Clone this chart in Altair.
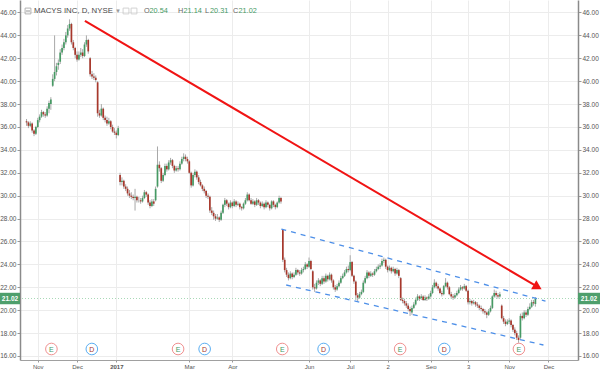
import altair as alt
import pandas as pd

# ---------------- data (daily bars, x = trading-day index, 0 = 1 Nov 2016) ----------------
FIRST_BAR = -6

opens = (
    [36.5, 36.4, 36.1, 36.3, 35.7, 35.4]
    + [36.0, 36.6, 36.9, 37.3, 37.1, 37.0, 37.6, 38.0, 39.6, 40.2]
    + [40.8, 41.4, 41.7, 42.5, 42.9, 43.4, 44.0, 44.6, 45.0, 43.4]
    + [42.9, 42.3, 41.9, 42.3, 42.5, 42.2, 43.2, 43.6, 42.0, 40.6]
    + [40.4, 40.3, 39.9, 37.2, 37.0, 37.6, 36.8, 36.6, 36.3, 36.5]
    + [36.0, 35.6, 35.5, 35.3, 31.8, 31.2, 31.3, 30.8, 30.6, 30.2]
    + [30.0, 29.9, 29.8, 29.9, 29.6, 29.6, 29.5, 29.8, 30.3, 30.1]
    + [29.4, 29.1, 29.5, 29.6, 30.8, 32.7, 32.4, 31.3, 31.8, 32.6]
    + [32.3, 32.9, 33.1, 32.6, 32.2, 32.4, 32.3, 32.8, 33.2, 33.4]
    + [33.2, 33.0, 32.0, 30.9, 31.8, 32.1, 31.6, 31.2, 30.9, 30.6]
    + [30.4, 30.0, 29.9, 28.7, 28.5, 28.2, 28.0, 28.1, 27.9, 28.5]
    + [29.2, 29.6, 29.3, 29.0, 29.4, 29.1, 29.5, 29.2, 29.3, 29.0]
    + [28.9, 29.3, 29.6, 30.1, 29.6, 29.3, 29.5, 29.2, 29.6, 29.4]
    + [29.1, 29.3, 29.0, 29.4, 29.2, 28.9, 29.5, 29.2, 29.0, 29.4]
    + [29.8, 27.0, 24.4, 23.5, 23.1, 22.8, 23.2, 22.9, 23.1, 23.5]
    + [23.3, 23.2, 23.5, 23.6, 24.0, 23.8, 24.3, 23.4, 22.0, 21.9]
    + [22.4, 22.6, 22.3, 22.8, 22.5, 23.0, 22.7, 23.1, 22.6, 22.0]
    + [21.8, 22.1, 22.4, 22.8, 23.0, 23.3, 23.6, 23.5, 24.2, 23.0]
    + [22.5, 21.3, 21.1, 21.4, 21.6, 22.4, 22.8, 23.3, 23.0, 23.2]
    + [23.1, 23.4, 23.6, 23.8, 23.9, 24.3, 24.4, 23.8, 23.5, 23.7]
    + [23.4, 23.6, 23.2, 23.5, 22.8, 20.9, 20.8, 20.6, 20.4, 20.1]
    + [19.8, 20.2, 20.5, 20.9, 21.2, 21.0, 21.2, 20.9, 21.1, 21.0]
    + [21.2, 21.5, 22.0, 22.4, 22.1, 21.9, 21.5, 21.4, 22.1, 22.4]
    + [22.0, 21.4, 21.2, 21.1, 21.3, 21.5, 21.8, 22.0, 21.9, 22.1]
    + [21.7, 20.7, 20.8, 20.6, 20.7, 20.5, 20.4, 20.2, 20.1, 19.9]
    + [19.8, 19.6, 19.9, 20.2, 21.2, 21.5, 21.3, 21.2, 20.4, 19.3]
    + [19.0, 18.8, 19.0, 19.1, 18.7, 18.3, 18.0, 17.6, 17.6, 19.5]
    + [19.3, 19.8, 19.6, 20.1, 20.3, 20.7, 20.54]
)

highs = (
    [36.7, 36.5, 36.5, 36.4, 35.8, 36.1]
    + [36.8, 37.1, 37.5, 37.4, 37.3, 37.8, 38.3, 38.6, 40.6, 44.0]
    + [41.6, 41.9, 42.8, 43.2, 43.7, 44.3, 44.9, 45.4, 45.1, 43.6]
    + [43.0, 42.6, 42.6, 42.9, 42.8, 43.4, 44.0, 43.7, 42.1, 40.9]
    + [40.7, 40.5, 40.0, 37.5, 38.0, 37.7, 37.0, 36.9, 36.8, 36.6]
    + [36.2, 35.9, 35.7, 36.1, 32.0, 31.6, 31.4, 31.0, 30.8, 30.5]
    + [30.3, 30.1, 30.6, 30.0, 29.9, 29.8, 30.0, 30.5, 30.4, 30.2]
    + [29.6, 29.7, 29.7, 30.8, 34.3, 33.0, 32.5, 32.0, 32.8, 32.8]
    + [33.1, 33.3, 33.2, 32.7, 32.6, 32.6, 33.0, 33.4, 33.7, 33.6]
    + [33.4, 33.1, 32.1, 32.0, 32.3, 32.2, 31.8, 31.4, 31.0, 30.8]
    + [30.5, 30.2, 30.0, 29.0, 28.7, 28.4, 28.4, 28.2, 28.7, 29.3]
    + [29.8, 29.7, 29.4, 29.6, 29.5, 29.7, 29.6, 29.5, 29.4, 29.1]
    + [29.4, 29.8, 30.3, 30.2, 29.8, 29.7, 29.6, 29.8, 29.7, 29.5]
    + [29.5, 29.4, 29.6, 29.5, 29.3, 29.6, 29.6, 29.3, 29.5, 30.0]
    + [29.9, 27.1, 24.6, 23.7, 23.3, 23.4, 23.3, 23.3, 23.7, 23.6]
    + [23.5, 23.7, 23.8, 24.2, 24.1, 24.6, 24.4, 23.5, 22.3, 22.6]
    + [22.8, 22.7, 23.0, 23.0, 23.2, 23.1, 23.3, 23.2, 22.7, 22.2]
    + [22.3, 22.6, 23.0, 23.2, 23.5, 23.8, 23.9, 24.8, 24.3, 23.1]
    + [22.6, 21.5, 21.6, 21.8, 22.6, 23.0, 23.5, 23.4, 23.4, 23.3]
    + [23.6, 23.8, 24.0, 24.1, 24.5, 24.6, 24.5, 23.9, 23.9, 23.8]
    + [23.8, 23.7, 23.7, 23.6, 22.9, 21.1, 21.0, 20.8, 20.6, 20.3]
    + [20.4, 20.7, 21.1, 21.4, 21.3, 21.4, 21.3, 21.3, 21.2, 21.4]
    + [21.7, 22.2, 22.7, 22.5, 22.3, 22.0, 21.7, 22.2, 22.8, 22.5]
    + [22.1, 21.6, 21.4, 21.5, 21.7, 22.0, 22.2, 22.1, 22.3, 22.2]
    + [21.8, 21.0, 20.9, 20.9, 20.8, 20.7, 20.5, 20.4, 20.2, 20.1]
    + [19.9, 20.1, 20.4, 21.3, 21.8, 21.7, 21.5, 21.6, 20.5, 19.5]
    + [19.2, 19.2, 19.3, 19.2, 18.8, 18.5, 18.2, 17.8, 19.7, 19.8]
    + [20.0, 20.0, 20.3, 20.6, 20.9, 20.9, 21.14]
)

lows = (
    [36.1, 35.9, 36.0, 35.5, 35.2, 35.3]
    + [35.9, 36.4, 36.8, 36.9, 36.8, 36.9, 37.2, 37.5, 39.5, 40.0]
    + [40.5, 41.0, 41.5, 42.3, 42.7, 43.2, 43.8, 44.4, 43.2, 42.7]
    + [42.0, 41.7, 41.8, 42.1, 42.0, 42.1, 43.0, 42.4, 40.4, 40.2]
    + [40.1, 39.9, 36.9, 36.8, 36.9, 36.6, 36.4, 36.1, 36.2, 35.8]
    + [35.5, 35.3, 35.0, 35.2, 30.9, 30.9, 30.6, 30.4, 30.0, 29.8]
    + [29.7, 29.6, 28.7, 29.4, 29.4, 29.3, 29.4, 29.7, 29.9, 29.2]
    + [28.9, 29.0, 29.1, 29.5, 30.7, 32.1, 31.1, 31.2, 31.7, 32.1]
    + [32.2, 32.7, 32.4, 32.0, 32.1, 32.1, 32.2, 32.7, 33.0, 33.0]
    + [32.8, 31.9, 30.7, 30.8, 31.6, 31.4, 31.0, 30.8, 30.4, 30.2]
    + [29.8, 29.7, 28.5, 28.3, 27.9, 27.8, 27.9, 27.7, 27.8, 28.4]
    + [29.0, 29.1, 28.8, 28.9, 28.9, 29.0, 29.0, 29.1, 28.8, 28.7]
    + [28.8, 29.2, 29.5, 29.5, 29.2, 29.2, 29.0, 29.1, 29.2, 28.9]
    + [29.0, 28.8, 28.9, 29.0, 28.7, 28.8, 29.0, 28.8, 28.9, 29.3]
    + [29.3, 24.2, 23.3, 22.9, 22.6, 22.7, 22.7, 22.8, 23.0, 23.1]
    + [23.0, 23.1, 23.3, 23.5, 23.6, 23.7, 23.5, 21.8, 21.6, 21.8]
    + [22.2, 22.1, 22.2, 22.3, 22.4, 22.5, 22.6, 22.4, 21.8, 21.6]
    + [21.7, 22.0, 22.3, 22.7, 22.9, 23.2, 23.3, 23.4, 22.9, 22.3]
    + [20.9, 20.8, 21.0, 21.3, 21.5, 22.3, 22.7, 22.8, 22.9, 22.9]
    + [23.0, 23.3, 23.5, 23.6, 23.8, 24.1, 23.6, 23.3, 23.4, 23.2]
    + [23.3, 23.0, 23.1, 22.8, 20.8, 20.6, 20.4, 20.2, 19.9, 19.5]
    + [19.6, 20.1, 20.4, 20.8, 20.8, 20.9, 20.8, 20.8, 20.8, 20.9]
    + [21.1, 21.4, 21.9, 21.9, 21.7, 21.4, 21.2, 21.3, 22.0, 21.8]
    + [21.3, 21.0, 20.9, 21.0, 21.2, 21.4, 21.7, 21.7, 21.8, 21.6]
    + [20.5, 20.5, 20.4, 20.5, 20.3, 20.2, 20.0, 19.9, 19.7, 19.6]
    + [19.3, 19.5, 19.8, 20.1, 21.1, 21.1, 21.0, 21.1, 19.2, 18.8]
    + [18.6, 18.7, 18.8, 18.5, 18.1, 17.8, 17.4, 17.15, 17.5, 19.1]
    + [19.2, 19.4, 19.5, 20.0, 20.2, 20.4, 20.31]
)

closes = (
    [36.4, 36.1, 36.3, 35.7, 35.4, 36.0]
    + [36.6, 36.9, 37.3, 37.1, 37.0, 37.6, 38.1, 38.4, 40.2, 40.8]
    + [41.3, 41.6, 42.5, 42.9, 43.4, 44.0, 44.6, 45.0, 43.4, 42.9]
    + [42.3, 41.9, 42.3, 42.5, 42.2, 43.2, 43.6, 42.6, 40.6, 40.4]
    + [40.3, 40.1, 37.2, 37.0, 37.6, 36.8, 36.6, 36.3, 36.5, 36.0]
    + [35.6, 35.5, 35.3, 35.9, 31.2, 31.3, 30.8, 30.6, 30.2, 30.0]
    + [29.9, 29.8, 29.9, 29.6, 29.6, 29.5, 29.8, 30.3, 30.1, 29.4]
    + [29.1, 29.5, 29.3, 30.6, 32.7, 32.4, 31.3, 31.8, 32.6, 32.3]
    + [32.9, 33.1, 32.6, 32.2, 32.4, 32.3, 32.8, 33.2, 33.4, 33.2]
    + [33.0, 32.0, 30.9, 31.8, 32.1, 31.6, 31.2, 30.9, 30.6, 30.4]
    + [30.0, 29.9, 28.7, 28.5, 28.2, 28.0, 28.1, 27.9, 28.5, 29.2]
    + [29.6, 29.3, 29.0, 29.4, 29.1, 29.5, 29.2, 29.3, 29.0, 28.9]
    + [29.3, 29.6, 30.1, 29.6, 29.3, 29.5, 29.2, 29.6, 29.4, 29.1]
    + [29.3, 29.0, 29.4, 29.2, 28.9, 29.5, 29.2, 29.0, 29.4, 29.8]
    + [29.5, 24.4, 23.5, 23.1, 22.8, 23.2, 22.9, 23.1, 23.5, 23.3]
    + [23.2, 23.5, 23.6, 24.0, 23.8, 24.3, 23.6, 22.0, 21.9, 22.4]
    + [22.6, 22.3, 22.8, 22.5, 23.0, 22.7, 23.1, 22.6, 22.0, 21.8]
    + [22.1, 22.4, 22.8, 23.0, 23.3, 23.6, 23.5, 24.2, 23.0, 22.5]
    + [21.3, 21.1, 21.4, 21.6, 22.4, 22.8, 23.3, 23.0, 23.2, 23.1]
    + [23.4, 23.6, 23.8, 23.9, 24.3, 24.4, 23.8, 23.5, 23.7, 23.4]
    + [23.6, 23.2, 23.5, 23.0, 20.9, 20.8, 20.6, 20.4, 20.1, 19.9]
    + [20.2, 20.5, 20.9, 21.2, 21.0, 21.2, 20.9, 21.1, 21.0, 21.2]
    + [21.5, 22.0, 22.4, 22.1, 21.9, 21.5, 21.4, 22.1, 22.4, 22.0]
    + [21.4, 21.2, 21.1, 21.3, 21.5, 21.8, 22.0, 21.9, 22.1, 21.7]
    + [20.7, 20.8, 20.6, 20.7, 20.5, 20.4, 20.2, 20.1, 19.9, 19.8]
    + [19.6, 19.9, 20.2, 21.2, 21.5, 21.3, 21.2, 21.4, 19.3, 19.0]
    + [18.8, 19.0, 19.1, 18.7, 18.3, 18.0, 17.6, 17.4, 19.5, 19.3]
    + [19.8, 19.6, 20.1, 20.3, 20.7, 20.6, 21.02]
)

month_idx = [0, 21, 42, 81, 104, 145, 167, 187, 210, 230, 252, 273]
month_lbl = ["Nov", "Dec", "2017", "Mar", "Apr", "Jun", "Jul", "2", "Sep", "3", "Nov", "Dec"]
price_ticks = [16, 18, 20, 22, 24, 26, 28, 30, 32, 34, 36, 38, 40, 42, 44, 46]

event_idx = [7.3, 28.9, 75.0, 89.2, 130.7, 152.8, 193.7, 217.3, 257.2]
event_kind = ["E", "D", "E", "D", "E", "D", "E", "D", "E"]

arrow_i = [25.2, 267.2]
arrow_p = [45.26, 22.03]
chan_up_i = [130.2, 271.4]
chan_up_p = [27.09, 20.80]
chan_lo_i = [132.8, 270.3]
chan_lo_p = [22.20, 16.96]

title_text = "MACYS INC, D, NYSE"

# ---------------- build ----------------
n = len(closes)
assert len(opens) == n and len(highs) == n and len(lows) == n
bars = pd.DataFrame({
    "i": list(range(FIRST_BAR, FIRST_BAR + n)),
    "o": opens, "h": highs, "l": lows, "c": closes,
})
bars["dir"] = ["up" if c >= o else "down" for o, c in zip(opens, closes)]

last = closes[-1]
GREEN = "#469a64"
RED = "#a8382c"
LBL_GREEN = "#4e9f6c"

xs = alt.Scale(domain=[-6.82, 286.1], nice=False, zero=False)
ys = alt.Scale(domain=[15.65, 47.09], nice=False, zero=False)

label_expr = "".join(f"datum.value == {v} ? '{t}' : " for v, t in zip(month_idx, month_lbl)) + "''"
FONT = "Liberation Sans"

xaxis = alt.Axis(values=month_idx, labelExpr=label_expr, title=None, grid=True,
                 gridColor="#ececec", tickSize=2, tickColor="#999999",
                 domainColor="#a0a0a0", domainWidth=1, labelFontSize=6, labelFont=FONT,
                 labelColor="#555555", labelPadding=1, labelFlush=False, labelOverlap=False,
                 labelFontWeight={"condition": {"test": "datum.value == 42", "value": "bold"},
                                  "value": "normal"})
yaxis_l = alt.Axis(values=price_ticks, format=".2f", title=None, orient="left", grid=True,
                   gridColor="#ececec", tickSize=3, tickColor="#999999", domainColor="#8a8a8a",
                   domainWidth=1.5, labelFontSize=6.5, labelFont=FONT, labelColor="#555555",
                   labelPadding=1)
yaxis_r = alt.Axis(values=price_ticks, format=".2f", title=None, orient="right", grid=False,
                   tickSize=3, tickColor="#999999", domainColor="#8a8a8a",
                   domainWidth=1.5, labelFontSize=6.5, labelFont=FONT, labelColor="#555555",
                   labelPadding=1)

X = lambda f: alt.X(f, scale=xs, axis=xaxis)

wicks = alt.Chart(bars).mark_rule(color="#a8a8a8", strokeWidth=1).encode(
    x=X("i:Q"), y=alt.Y("l:Q", scale=ys, axis=yaxis_l), y2="h:Q")

bodies = alt.Chart(bars).mark_bar(size=1.7).encode(
    x=X("i:Q"), y=alt.Y("o:Q", scale=ys, axis=None), y2="c:Q",
    color=alt.Color("dir:N", scale=alt.Scale(domain=["up", "down"], range=[GREEN, RED]), legend=None))

last_df = pd.DataFrame({"p": [last], "top": [last + 0.5], "bot": [last - 0.5], "t": [f"{last:.2f}"]})
last_rule = alt.Chart(last_df).mark_rule(color="#a9d9b7", strokeDash=[1, 2], strokeWidth=1).encode(
    y=alt.Y("p:Q", scale=ys, axis=yaxis_r))

chan_df = pd.DataFrame({"i": chan_up_i + chan_lo_i, "p": chan_up_p + chan_lo_p,
                        "k": ["up", "up", "lo", "lo"]})
channel = alt.Chart(chan_df).mark_line(color="#4d8fe8", strokeDash=[5, 5], strokeWidth=1.3).encode(
    x=X("i:Q"), y=alt.Y("p:Q", scale=ys, axis=None), detail="k:N")

arrow_df = pd.DataFrame({"i": arrow_i, "p": arrow_p})
arrow = alt.Chart(arrow_df).mark_line(color="#f01414", strokeWidth=2).encode(
    x=X("i:Q"), y=alt.Y("p:Q", scale=ys, axis=None))
head = alt.Chart(arrow_df.tail(1)).mark_point(shape="triangle-right", filled=True, size=110,
                                              angle=30, color="#f01414", opacity=1).encode(
    x=X("i:Q"), y=alt.Y("p:Q", scale=ys, axis=None))

ev_df = pd.DataFrame({"i": event_idx, "k": event_kind})
ev_colors = alt.Scale(domain=["E", "D"], range=["#f09090", "#5aaef2"])
ev_circ = alt.Chart(ev_df).mark_point(shape="circle", size=135, filled=True, fill="white",
                                      strokeWidth=1, opacity=1).encode(
    x=X("i:Q"), y=alt.value(349), stroke=alt.Color("k:N", scale=ev_colors, legend=None))
ev_txt = alt.Chart(ev_df).mark_text(fontSize=7, font=FONT, baseline="middle").encode(
    x=X("i:Q"), y=alt.value(349.5), text="k:N", color=alt.Color("k:N", scale=ev_colors, legend=None))

box_l = alt.Chart(last_df).mark_rect(color=LBL_GREEN).encode(
    x=alt.value(-20), x2=alt.value(0), y=alt.Y("top:Q", scale=ys, axis=None), y2="bot:Q")
box_r = alt.Chart(last_df).mark_rect(color=LBL_GREEN).encode(
    x=alt.value(558), x2=alt.value(580), y=alt.Y("top:Q", scale=ys, axis=None), y2="bot:Q")
box_lt = alt.Chart(last_df).mark_text(color="white", fontSize=6.5, font=FONT, fontWeight="bold").encode(
    x=alt.value(-10), y=alt.Y("p:Q", scale=ys, axis=None), text="t:N")
box_rt = alt.Chart(last_df).mark_text(color="white", fontSize=6.5, font=FONT, fontWeight="bold").encode(
    x=alt.value(569), y=alt.Y("p:Q", scale=ys, axis=None), text="t:N")

# header
title_df = pd.DataFrame({"t": [title_text], "px": [14]})
title_mark = alt.Chart(title_df).mark_text(align="left", baseline="middle", fontSize=7.8, font=FONT,
                                           color="#4a4a4a").encode(
    x=alt.X("px:Q", scale=None), y=alt.value(11), text="t:N")
ohlc_df = pd.DataFrame({
    "t": ["O", f"{opens[-1]:.2f}", "H", f"{highs[-1]:.2f}",
          "L", f"{lows[-1]:.2f}", "C", f"{closes[-1]:.2f}"],
    "px": [124, 129.5, 158, 163.5, 185, 190, 213, 218.5],
    "col": ["#666666", GREEN, "#666666", GREEN, "#666666", GREEN, "#666666", GREEN],
})
ohlc = alt.Chart(ohlc_df).mark_text(align="left", baseline="middle", fontSize=7.3, font=FONT).encode(
    x=alt.X("px:Q", scale=None), y=alt.value(11), text="t:N", color=alt.Color("col:N", scale=None))
icon_df = pd.DataFrame({"px": [8, 106, 114], "col": ["#888888", "#bbbbbb", "#bbbbbb"]})
icons = alt.Chart(icon_df).mark_point(shape="square", filled=False, size=34, strokeWidth=0.9).encode(
    x=alt.X("px:Q", scale=None), y=alt.value(11), stroke=alt.Color("col:N", scale=None))
minus = alt.Chart(icon_df.head(1)).mark_rule(color="#888888", strokeWidth=0.9).encode(
    x=alt.value(6), x2=alt.value(10), y=alt.value(11))
caret = alt.Chart(icon_df.head(1)).mark_text(text="▾", fontSize=7, color="#999999", font="DejaVu Sans").encode(
    x=alt.value(98), y=alt.value(11))

chart = alt.layer(
    wicks, bodies, last_rule, channel, arrow, head, ev_circ, ev_txt,
    box_l, box_r, box_lt, box_rt, title_mark, ohlc, icons, minus, caret
).resolve_axis(y="independent").properties(
    width=558, height=360,
    padding={"left": 20, "right": 22, "top": 0, "bottom": 9},
    autosize="none",
    background="white",
).configure_view(stroke="transparent")

chart.save("out.html", embed_options={"renderer": "svg", "actions": False})
